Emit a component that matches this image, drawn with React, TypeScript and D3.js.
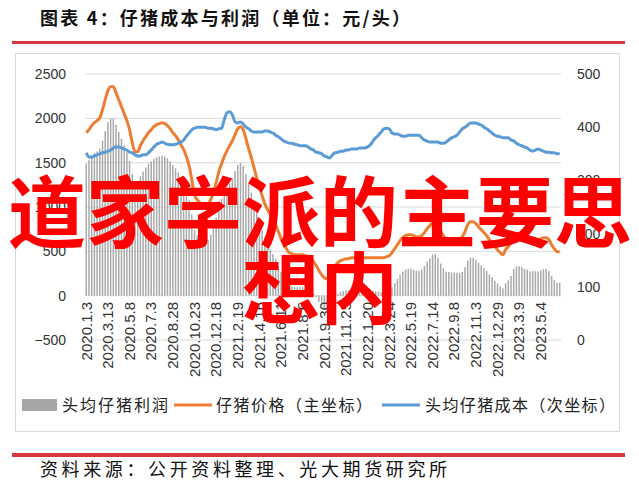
import React from 'react';
import * as d3 from 'd3';

const tickLabels = ["2020.1.3","2020.3.13","2020.5.8","2020.7.3","2020.8.28","2020.10.23","2020.12.18","2021.2.19","2021.4.16","2021.6.11","2021.8.6","2021.9.30","2021.11.25","2022.1.20","2022.3.24","2022.5.19","2022.7.14","2022.9.8","2022.11.3","2022.12.29","2023.3.9","2023.5.4"];
const leftTicks = [-500, 0, 500, 1000, 1500, 2000, 2500];
const rightTicks = [0, 100, 200, 300, 400, 500];

// 仔猪价格（主坐标）
const price = [
  1838,1872,1917,1951,1974,2007,2098,2210,2312,2357,
  2357,2289,2210,2132,2053,1974,1872,1726,1624,1624,
  1692,1748,1793,1838,1872,1906,1929,1940,1951,1940,
  1917,1883,1838,1804,1759,1703,1647,1568,1466,1308,
  1139,1083,1049,1015,1004,1026,1083,1162,1274,1398,
  1489,1568,1635,1692,1748,1816,1883,1906,1872,1771,
  1658,1556,1444,1331,1229,1128,1038,970,914,857,
  801,722,643,575,530,485,474,462,462,462,
  462,451,440,417,383,338,282,237,203,192,
  214,271,338,372,395,406,417,417,429,429,
  429,429,429,429,429,429,429,429,429,429,
  429,440,451,485,530,575,620,654,677,688,
  688,677,665,665,677,711,756,789,835,846,
  801,733,677,643,643,643,643,643,643,665,
  722,801,835,835,812,778,744,711,677,632,
  598,553,519,485,462,519,553,598,677,699,
  699,688,665,654,632,632,632,632,643,654,
  654,632,575,530,496,496
];

// 头均仔猪成本（次坐标）
const cost = [
  352,344,344,346,348,350,352,353,355,357,
  361,363,363,361,359,357,353,352,348,346,
  346,348,348,352,357,363,368,370,372,370,
  368,367,367,368,370,372,376,383,389,395,
  398,400,400,400,400,398,398,397,395,397,
  398,414,427,429,423,410,408,410,406,400,
  397,393,391,391,391,391,393,393,391,389,
  385,382,378,374,372,370,370,368,367,365,
  365,365,363,359,357,353,352,350,346,344,
  342,348,352,353,355,355,357,357,359,359,
  359,361,361,361,363,367,374,380,385,391,
  397,398,397,389,387,387,385,383,383,385,
  385,385,385,385,380,376,374,372,372,372,
  372,370,370,372,376,380,382,385,391,397,
  400,404,408,408,408,406,404,400,397,393,
  389,385,383,382,380,380,380,376,374,370,
  367,365,363,361,357,355,357,359,357,355,
  353,353,352,352,350,350
];

// 头均仔猪利润
const profit = [
  1486,1528,1573,1605,1626,1657,1746,1857,1957,2000,
  1996,1926,1847,1771,1694,1617,1519,1374,1276,1278,
  1346,1400,1445,1486,1515,1543,1561,1570,1579,1570,
  1549,1516,1471,1436,1389,1331,1271,1185,1077,913,
  741,683,649,615,604,628,685,765,879,1001,
  1091,1154,1208,1263,1325,1406,1475,1496,1466,1371,
  1261,1163,1053,940,838,737,645,577,523,468,
  416,340,265,201,158,115,104,94,95,97,
  97,86,77,58,26,-15,-70,-113,-143,-152,
  -128,-77,-14,19,40,51,60,60,70,70,
  70,68,68,68,66,62,55,49,44,38,
  32,42,54,96,143,188,235,271,294,303,
  303,292,280,280,297,335,382,417,463,474,
  429,363,307,271,267,263,261,258,252,268,
  322,397,427,427,404,372,340,311,280,239,
  209,168,136,103,82,139,173,222,303,329,
  332,323,302,293,275,277,275,273,286,299,
  301,279,223,178,146,146
];

const CJK = '"Noto Sans CJK SC", sans-serif';
const NUM = '"Liberation Sans", Arial, sans-serif';

export default function App() {
  const N = price.length;
  const x = d3.scaleBand<number>().domain(d3.range(N)).range([85, 561]).paddingInner(0.45).paddingOuter(0.2);
  const yL = d3.scaleLinear().domain([-500, 2500]).range([340, 74]);
  const yR = d3.scaleLinear().domain([0, 500]).range([340, 74]);
  const cx = (i: number) => (x(i) as number) + x.bandwidth() / 2;
  const lineL = d3.line<number>().x((_, i) => cx(i)).y(d => yL(d)).curve(d3.curveMonotoneX);
  const lineR = d3.line<number>().x((_, i) => cx(i)).y(d => yR(d)).curve(d3.curveMonotoneX);
  const red = '#d8363b';
  const labelIdx = tickLabels.map((_, k) => k * 8);

  return (
    <svg width={639} height={482} style={{ position: 'absolute', left: 0, top: 0, background: '#fff' }}>
      <rect x={0} y={0} width={639} height={482} fill="#fff" />
      {/* title */}
      <text x={40} y={25} fontFamily={CJK} fontWeight={700} fontSize={18} fill="#111" textLength={370} lengthAdjust="spacing">图表 4：仔猪成本与利润（单位：元/头）</text>
      <rect x={12} y={41} width={613} height={3} fill={red} />
      {/* frame */}
      <rect x={15.5} y={53.5} width={604} height={378} fill="none" stroke="#d9d9d9" strokeWidth={1} />
      {/* grid */}
      {leftTicks.map(t => (
        <line key={'g' + t} x1={85} x2={561} y1={yL(t)} y2={yL(t)} stroke="#d9d9d9" strokeWidth={1} />
      ))}
      {/* left ticks */}
      {leftTicks.map(t => (
        <text key={'l' + t} x={66} y={yL(t)} dy="0.35em" textAnchor="end" fontFamily={NUM} fontSize={14} fill="#333">{t < 0 ? '\u2212' + Math.abs(t) : t}</text>
      ))}
      {rightTicks.map(t => (
        <text key={'r' + t} x={577} y={yR(t)} dy="0.35em" textAnchor="start" fontFamily={NUM} fontSize={14} fill="#333">{t}</text>
      ))}
      {/* bars */}
      {profit.map((v, i) => (
        <rect key={'b' + i} x={x(i)} width={x.bandwidth()} y={Math.min(yL(v), yL(0))} height={Math.abs(yL(v) - yL(0))} fill="#a9a9a9" />
      ))}
      {/* lines */}
      <path d={lineL(price) || ''} fill="none" stroke="#ed7d31" strokeWidth={3} strokeLinejoin="round" />
      <path d={lineR(cost) || ''} fill="none" stroke="#5b9bd5" strokeWidth={3} strokeLinejoin="round" />
      {/* x labels */}
      {labelIdx.map((i, k) => (
        <text key={'x' + k} transform={`translate(${cx(i)},302) rotate(-90)`} textAnchor="end" dy="0.35em" fontFamily={NUM} fontSize={15} fill="#333">{tickLabels[k]}</text>
      ))}
      {/* legend */}
      <rect x={22} y={399} width={35} height={12} fill="#a6a6a6" />
      <text x={62} y={411} fontFamily={CJK} fontSize={16} fill="#222" textLength={106} lengthAdjust="spacing">头均仔猪利润</text>
      <line x1={174} x2={212} y1={405} y2={405} stroke="#ed7d31" strokeWidth={3} />
      <text x={216} y={411} fontFamily={CJK} fontSize={16} fill="#222" textLength={156} lengthAdjust="spacing">仔猪价格（主坐标）</text>
      <line x1={382} x2={420} y1={405} y2={405} stroke="#5b9bd5" strokeWidth={3} />
      <text x={425} y={411} fontFamily={CJK} fontSize={16} fill="#222" textLength={190} lengthAdjust="spacing">头均仔猪成本（次坐标）</text>
      {/* footer */}
      <rect x={12} y={453} width={613} height={4} fill={red} />
      <text x={40} y={476} fontFamily={CJK} fontSize={18} fill="#111" textLength={407} lengthAdjust="spacing">资料来源：公开资料整理、光大期货研究所</text>
      {/* overlay text */}
      <text x={320} y={242} textAnchor="middle" fontFamily={CJK} fontWeight={700} fontSize={78} fill="#ff0000">道家学派的主要思</text>
      <text x={320} y={318} textAnchor="middle" fontFamily={CJK} fontWeight={700} fontSize={78} fill="#ff0000">想内</text>
    </svg>
  );
}
